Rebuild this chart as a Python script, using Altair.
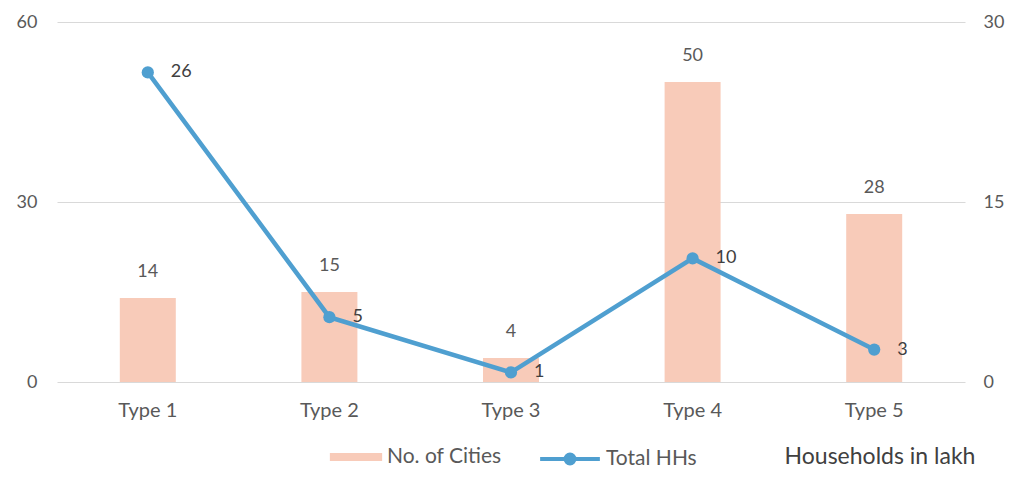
import altair as alt
import pandas as pd

categories = ["Type 1", "Type 2", "Type 3", "Type 4", "Type 5"]
cities = [14, 15, 4, 50, 28]
households = [25.8, 5.4, 0.8, 10.3, 2.7]

df = pd.DataFrame({"type": categories, "cities": cities, "hh": households})

FONT = "Lato"
GREY = "#595959"
DARK = "#404040"
BAR = "#f8cbb9"
LINE = "#4f9fd0"

x = alt.X("type:N", sort=categories, title=None,
          scale=alt.Scale(paddingInner=0, paddingOuter=0),
          axis=alt.Axis(labelAngle=0, domain=False, ticks=False, labelPadding=18,
                        labelFontSize=20, labelColor=GREY, labelFont=FONT))

left_axis = alt.Axis(values=[0, 30, 60], domain=False, ticks=False, labelPadding=20,
                     labelFontSize=18, labelColor=GREY, labelFont=FONT,
                     gridColor="#d9d9d9", gridWidth=1.2)
right_axis = alt.Axis(orient="right", values=[0, 15, 30], domain=False, ticks=False, grid=False,
                      labelPadding=18, labelFontSize=18, labelColor=GREY, labelFont=FONT)

base = alt.Chart(df)

bars = base.mark_bar(size=56).encode(
    x=x,
    y=alt.Y("cities:Q", title=None, scale=alt.Scale(domain=[0, 60]), axis=left_axis),
    color=alt.Color("s1:N", scale=alt.Scale(domain=["No. of Cities"], range=[BAR]),
                    legend=alt.Legend(title=None, orient="none", legendX=280, legendY=416,
                                      symbolType="M-1.4,-0.22H1.4V0.22H-1.4Z", symbolSize=1394,
                                      symbolStrokeWidth=0, labelOffset=12,
                                      labelFontSize=21, labelColor=GREY, labelFont=FONT)),
).transform_calculate(s1="'No. of Cities'")

bar_labels = base.mark_text(dy=-26, fontSize=18, color=GREY, font=FONT).encode(
    x=x,
    y=alt.Y("cities:Q", title=None, scale=alt.Scale(domain=[0, 60]), axis=left_axis),
    text=alt.Text("cities:Q", format=".0f"),
)

left = alt.layer(bars, bar_labels)

line = base.mark_line(strokeWidth=4.5, point=alt.OverlayMarkDef(size=150, filled=True, color=LINE)).encode(
    x=x,
    y=alt.Y("hh:Q", title=None, scale=alt.Scale(domain=[0, 30]), axis=right_axis),
    color=alt.Color("s2:N", scale=alt.Scale(domain=["Total HHs"], range=[LINE]),
                    legend=alt.Legend(title=None, orient="none", legendX=492, legendY=416,
                                      symbolType="M-1.6,0H1.6M0.24,0A0.24,0.24 0 1,1 -0.24,0A0.24,0.24 0 1,1 0.24,0Z",
                                      symbolSize=1394, symbolStrokeWidth=4, symbolFillColor=LINE,
                                      labelOffset=15,
                                      labelFontSize=21, labelColor=GREY, labelFont=FONT)),
).transform_calculate(s2="'Total HHs'")

line_labels = base.mark_text(align="left", dx=23, dy=0, fontSize=18, color=DARK, font=FONT).encode(
    x=x,
    y=alt.Y("hh:Q", title=None, scale=alt.Scale(domain=[0, 30]), axis=right_axis),
    text=alt.Text("hh:Q", format=".0f"),
)

right = alt.layer(line, line_labels)

note = alt.Chart(pd.DataFrame({"t": ["Households in lakh"]})).mark_text(
    fontSize=23, color=DARK, font=FONT, align="center", baseline="middle"
).encode(x=alt.value(823), y=alt.value(435), text="t:N")

chart = alt.layer(left, right, note).resolve_scale(
    y="independent", color="independent"
).properties(
    width=908, height=360,
    padding={"left": 49, "top": 14, "right": 40, "bottom": 89},
    autosize=alt.AutoSizeParams(type="none"),
).configure_view(stroke=None)

chart.save("out.html", embed_options={"renderer": "svg", "actions": False})
